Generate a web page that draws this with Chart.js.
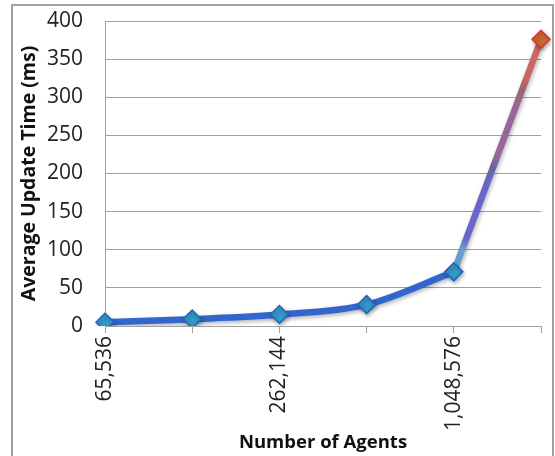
<!DOCTYPE html>
<html>
<head>
<meta charset="utf-8">
<script src="https://cdn.jsdelivr.net/npm/chart.js@4.4.1/dist/chart.umd.min.js"></script>
<style>
  html, body { margin: 0; padding: 0; background: #fff; }
  #wrap { position: relative; width: 555px; height: 456px; overflow: hidden; }
  #frame { position: absolute; left: 11px; top: 4px; width: 543px; height: 470px; border: 2px solid #a0a0a0; box-sizing: border-box; }
  canvas { position: absolute; left: 0; top: 0; }
</style>
</head>
<body>
<div id="wrap">
  <div id="frame"></div>
  <canvas id="chart" width="555" height="456"></canvas>
</div>
<script>
// agents per run, only every other one is labelled on the axis
const agents = ['65,536', '131,072', '262,144', '524,288', '1,048,576', '2,097,152']
const shownLabels = ['65,536', '', '262,144', '', '1,048,576', '']
const updateMs = [5, 9, 15, 28, 71, 376]

const yTicks = [0, 50, 100, 150, 200, 250, 300, 350, 400]

const FONT = '"Open Sans", "DejaVu Sans", sans-serif'
const lastIdx = updateMs.length - 1

// smooth blue part, and the straight jump to the last run drawn separately
const smoothPart = updateMs.map((v, i) => i < lastIdx ? v : null)
const jumpPart = updateMs.map((v, i) => i >= lastIdx - 1 ? v : null)

const canvas = document.getElementById('chart')
const g2d = canvas.getContext('2d')

function jumpColor(ctx){
  var g = g2d.createLinearGradient(ctx.p0.x, ctx.p0.y, ctx.p1.x, ctx.p1.y)
  g.addColorStop(0, '#5b9bd5')
  g.addColorStop(0.1, '#6a9fd0')
  g.addColorStop(0.14, '#6666cc')
  g.addColorStop(0.38, '#6666cc')
  g.addColorStop(0.45, '#666699')
  g.addColorStop(0.5, '#996699')
  g.addColorStop(0.72, '#996699')
  g.addColorStop(0.78, '#996666')
  g.addColorStop(0.84, '#cc6666')
  g.addColorStop(1, '#cc6666')
  return g
}

// soft shadow under the markers, like the office chart
const shadowPlugin = {
  id: 'markerShadow',
  beforeDatasetsDraw(c){
    c.ctx.save()
    c.ctx.shadowColor = 'rgba(0,0,0,0.3)'
    c.ctx.shadowBlur = 4
    c.ctx.shadowOffsetX = 1
    c.ctx.shadowOffsetY = 2
  },
  afterDatasetsDraw(c){
    c.ctx.restore()
  }
}

const chart = new Chart(canvas, {
  type: 'line',
  data: {
    labels: agents,
    datasets: [{
      data: smoothPart,
      borderWidth: 6.5,
      borderColor: '#3366cc',
      cubicInterpolationMode: 'monotone',
      pointStyle: 'rectRot',
      pointRadius: 9,
      pointHoverRadius: 9,
      pointBorderWidth: 1.5,
      pointBackgroundColor: '#3399cc',
      pointBorderColor: '#2266bb'
    }, {
      data: jumpPart,
      borderWidth: 6.5,
      borderColor: '#cc6666',
      tension: 0,
      segment: { borderColor: jumpColor },
      pointStyle: 'rectRot',
      pointRadius: updateMs.map((v, i) => i === lastIdx ? 9 : 0),
      pointHoverRadius: 9,
      pointBorderWidth: 1.5,
      pointBackgroundColor: '#cc6633',
      pointBorderColor: '#dd3333'
    }]
  },
  options: {
    responsive: false,
    animation: false,
    layout: { padding: { left: 18, right: 14, top: 21, bottom: 2 } },
    plugins: {
      legend: { display: false },
      tooltip: { enabled: false }
    },
    scales: {
      x: {
        offset: false,
        afterFit: axis => {
          axis.paddingLeft = 0
          axis.paddingRight = 0
          axis.height = 128
        },
        grid: { drawOnChartArea: false, color: '#a0a0a0', tickLength: 7 },
        border: { color: '#a0a0a0' },
        ticks: {
          autoSkip: false,
          minRotation: 90,
          maxRotation: 90,
          color: '#222',
          font: { family: FONT, size: 21 },
          callback: (v, i) => shownLabels[i]
        },
        title: {
          display: true,
          text: 'Number of Agents',
          color: '#111',
          font: { family: FONT, size: 18.5, weight: 'bold' },
          padding: { top: 0, bottom: 0 }
        }
      },
      y: {
        min: 0,
        max: 400,
        afterBuildTicks: axis => { axis.ticks = yTicks.map(v => ({ value: v })) },
        afterFit: axis => {
          axis.width = 87
          axis.paddingTop = 0
          axis.paddingBottom = 0
        },
        grid: { color: '#a0a0a0', tickLength: 0 },
        border: { color: '#a0a0a0' },
        ticks: {
          color: '#222',
          padding: 22,
          font: { family: FONT, size: 21 }
        },
        title: {
          display: true,
          text: 'Average Update Time (ms)',
          color: '#111',
          font: { family: FONT, size: 19.5, weight: 'bold' },
          padding: { top: 0, bottom: 0 }
        }
      }
    }
  },
  plugins: [shadowPlugin]
})
</script>
</body>
</html>
